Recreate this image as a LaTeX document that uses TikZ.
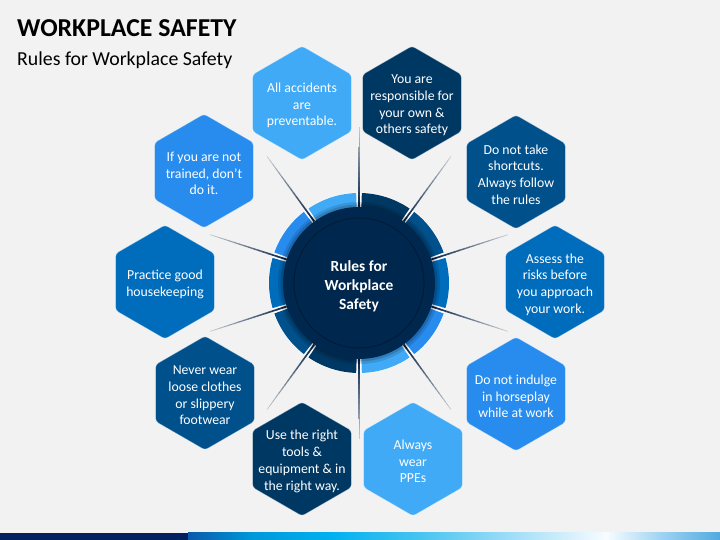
\documentclass[tikz,border=0pt]{standalone}
\usepackage{fontspec}
\setmainfont{Carlito}
\usetikzlibrary{shapes.geometric,calc}
\definecolor{bg}{HTML}{F2F2F2}
\definecolor{clight}{RGB}{64,170,246}
\definecolor{cnavy}{RGB}{0,56,100}
\definecolor{cdeep}{RGB}{0,80,140}
\definecolor{cmid}{RGB}{0,108,188}
\definecolor{cbright}{RGB}{40,140,238}
\definecolor{ccore}{RGB}{0,40,78}
\definecolor{cinner}{RGB}{0,28,58}
\definecolor{cline}{RGB}{10,36,70}
\definecolor{bar0}{HTML}{002060}
\definecolor{bar1}{HTML}{0A5AAA}
\definecolor{bar2}{HTML}{0098DA}
\definecolor{bar3}{HTML}{00B0F0}
\definecolor{bar4}{HTML}{48C4F0}
\definecolor{bar5}{HTML}{A8E0F8}
\definecolor{bar6}{HTML}{F8FCFF}
\definecolor{bar7}{HTML}{A0D4F2}
\definecolor{bar8}{HTML}{50AAE0}
\begin{document}
\begin{tikzpicture}[x=1bp,y=1bp,
  hexbox/.style={regular polygon, regular polygon sides=6, shape border rotate=30,
    minimum size=114bp, inner sep=0pt, outer sep=0pt, rounded corners=3bp,
    draw=white, draw opacity=0.45, line width=0.7bp},
  hextext/.style={text=white, align=center, inner sep=0pt,
    font=\fontsize{13.8}{16.8}\selectfont}]
\useasboundingbox (0,0) rectangle (720,540);
\fill[bg] (0,0) rectangle (720,540);

% title
\node[anchor=base west, inner sep=0pt, font=\fontsize{25.9}{30}\selectfont\bfseries] (title) at (17,503) {WORKPLACE SAFETY};
\node[anchor=base west, inner sep=0pt, font=\fontsize{19.9}{23}\selectfont] (subtitle) at (17,474) {Rules for Workplace Safety};

% bottom bar
\fill[bar0] (0,0) rectangle (188,7);
\shade[left color=bar1, right color=bar2] (188,0) rectangle (252.5,7);
\shade[left color=bar2, right color=bar3] (252,0) rectangle (330.5,7);
\shade[left color=bar3, right color=bar4] (330,0) rectangle (420.5,7);
\shade[left color=bar4, right color=bar5] (420,0) rectangle (520.5,7);
\shade[left color=bar5, right color=bar6] (520,0) rectangle (606.5,7);
\shade[left color=bar6, right color=bar7] (606,0) rectangle (660.5,7);
\shade[left color=bar7, right color=bar8] (660,0) rectangle (720,7);

\coordinate (C) at (359,257);

% ring
\fill[white] (C) circle[radius=90.5];
\foreach \ang/\col in {0/cmid,36/cdeep,72/cnavy,108/clight,144/cbright,180/cmid,216/cdeep,252/cnavy,288/clight,324/cbright}{
  \fill[\col] ($(C)+(\ang-16.2:90)$) arc[start angle=\ang-16.2, end angle=\ang+16.2, radius=90]
    -- ($(C)+(\ang+16.2:66)$) arc[start angle=\ang+16.2, end angle=\ang-16.2, radius=66] -- cycle;
}

% radial lines
\foreach \ang in {90,54,18,-18,-54,-90,-126,-162,162,126}{
  \foreach \i in {0,...,15}{
    \pgfmathsetmacro\ra{76+5*\i}
    \pgfmathsetmacro\rb{\ra+5.4}
    \pgfmathsetmacro\mx{100-5.3*\i}
    \pgfmathsetmacro\lw{1.8-0.07*\i}
    \draw[line width=\lw bp, color=cline!\mx!bg] ($(C)+(\ang:\ra)$) -- ($(C)+(\ang:\rb)$);
  }
}

% core
\fill[black, opacity=0.12] (C) circle[radius=81];
\fill[black, opacity=0.15] (C) circle[radius=78.5];
\node[circle, fill=ccore, minimum size=152bp, inner sep=0pt] (core) at (C) {};
\draw[cinner, line width=1.1bp] (C) circle[radius=65];
\node[text=white, align=center, inner sep=0pt,
  font=\fontsize{15.5}{19}\selectfont\bfseries] (coretext) at ($(core)+(0,-3)$) {Rules for\\Workplace\\Safety};

% hexagons
\node[hexbox, fill=clight]  (h1) at (302,437) {};
\node[hexbox, fill=cnavy]   (h2) at (412,437) {};
\node[hexbox, fill=cdeep]   (h3) at (516,368) {};
\node[hexbox, fill=cmid]    (h4) at (555,258) {};
\node[hexbox, fill=cbright] (h5) at (516,146) {};
\node[hexbox, fill=clight]  (h6) at (413,81) {};
\node[hexbox, fill=cnavy]   (h7) at (302,81) {};
\node[hexbox, fill=cdeep]   (h8) at (205,147) {};
\node[hexbox, fill=cmid]    (h9) at (165,258) {};
\node[hexbox, fill=cbright] (h10) at (204,369) {};

\node[hextext] (t1) at ($(h1)+(0,-2.5)$) {All accidents\\are\\preventable.};
\node[hextext] (t2) at ($(h2)+(0,-2.5)$) {You are\\responsible for\\your own \&\\others safety};
\node[hextext] (t3) at ($(h3)+(0,-2.5)$) {Do not take\\shortcuts.\\Always follow\\the rules};
\node[hextext] (t4) at ($(h4)+(0,-2.5)$) {Assess the\\risks before\\you approach\\your work.};
\node[hextext] (t5) at ($(h5)+(0,-2.5)$) {Do not indulge\\in horseplay\\while at work};
\node[hextext] (t6) at ($(h6)+(0,-2.5)$) {Always\\wear\\PPEs};
\node[hextext] (t7) at ($(h7)+(0,-2.5)$) {Use the right\\tools \&\\equipment \& in\\the right way.};
\node[hextext] (t8) at ($(h8)+(0,-2.5)$) {Never wear\\loose clothes\\or slippery\\footwear};
\node[hextext] (t9) at ($(h9)+(0,-2.5)$) {Practice good\\housekeeping};
\node[hextext] (t10) at ($(h10)+(0,-2.5)$) {If you are not\\trained, don’t\\do it.};
\end{tikzpicture}
\end{document}
